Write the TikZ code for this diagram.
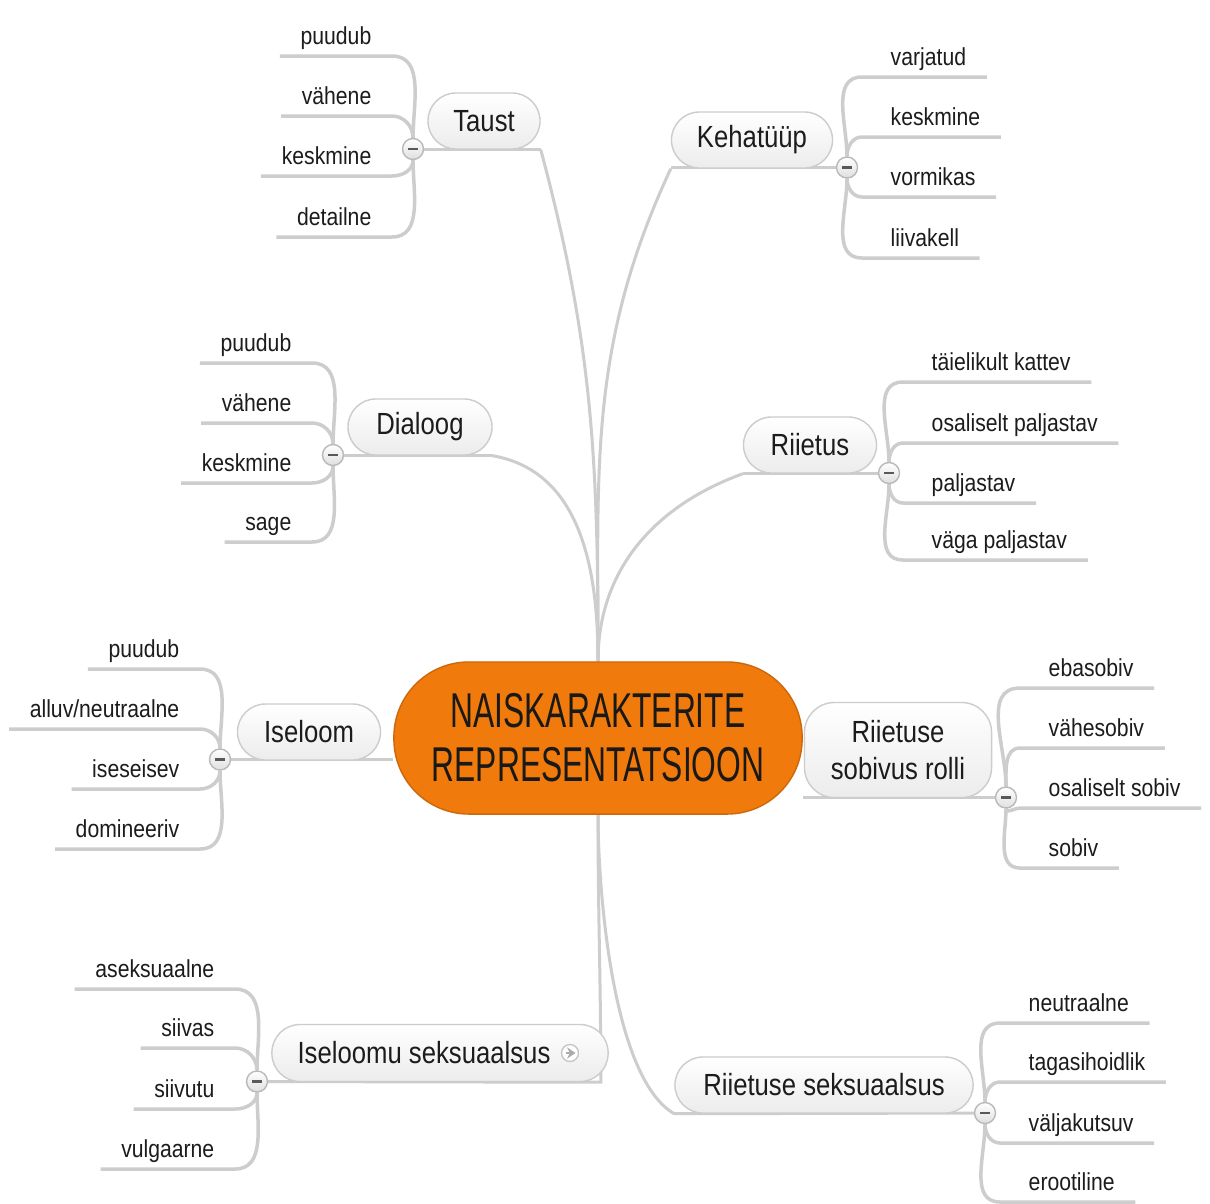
\documentclass[tikz,border=0pt]{standalone}
\usepackage{fontspec}
\setmainfont{Liberation Sans}
\newfontfamily\leaffont{Liberation Sans}[FakeStretch=0.86]
\newfontfamily\branchfont{Liberation Sans}[FakeStretch=0.84]
\newfontfamily\rootfont{Liberation Sans}[FakeStretch=0.65]
\usetikzlibrary{positioning, calc, backgrounds, arrows.meta}

\definecolor{mapline}{RGB}{205,205,205}
\definecolor{maporange}{RGB}{240,122,12}
\definecolor{maptext}{RGB}{28,28,28}

\tikzset{
  trunk/.style={draw=mapline, line width=0.03cm},
  twig/.style={draw=mapline, line width=0.035cm},
  leaf/.style={font=\leaffont\fontsize{7}{8}\selectfont, text=maptext,
    inner xsep=0.2cm, inner ysep=1.5pt, text height=5.2pt, text depth=1.5pt},
  leafl/.style={leaf, anchor=south east},
  leafr/.style={leaf, anchor=south west, execute at begin node=\hspace*{0.08cm}},
  branch/.style={rounded corners=0.28cm, draw=gray!40, top color=white,
    bottom color=gray!15, text=maptext, align=center, inner sep=0pt,
    font=\branchfont\fontsize{8.7}{10.4}\selectfont, minimum height=0.56cm},
  root/.style={rounded corners=0.75cm, fill=maporange, draw=maporange!85!black,
    minimum width=4.08cm, minimum height=1.52cm, align=center, text=black!90,
    font=\rootfont\fontsize{13.9}{15.4}\selectfont},
  minus/.style={circle, draw=gray!55, top color=white, bottom color=gray!25,
    minimum size=0.21cm, inner sep=0pt,
    path picture={\fill[gray!70!black] ([xshift=-0.05cm,yshift=-0.013cm]path picture bounding box.center)
      rectangle ++(0.1cm,0.026cm);}},
}

\begin{document}
\begin{tikzpicture}[x=0.01cm, y=0.01cm]
  \useasboundingbox (0,0) rectangle (1210,-1203);

  % keskmine solm
  \node[root] (root) at (598,-738) {NAISKARAKTERITE\\REPRESENTATSIOON};

  % harud
  \node[branch, minimum width=1.12cm] (taust) at (484,-121) {Taust};
  \node[branch, minimum width=1.61cm] (keha) at (752,-140) {Kehatüüp};
  \node[branch, minimum width=1.44cm] (dial) at (420,-427) {Dialoog};
  \node[branch, minimum width=1.33cm] (riie) at (810,-445) {Riietus};
  \node[branch, minimum width=1.43cm] (isel) at (309,-732) {Iseloom};
  \node[branch, minimum width=1.87cm, minimum height=0.95cm, rounded corners=0.3cm] (sobiv) at (898,-750) {Riietuse\\sobivus rolli};
  \node[branch, minimum width=3.36cm, minimum height=0.57cm] (isex) at (440,-1053) {Iseloomu seksuaalsus\hspace*{0.32cm}};
  \node[branch, minimum width=2.98cm] (riex) at (824,-1085) {Riietuse seksuaalsus};

  \node[circle, draw=gray!45, fill=white, minimum size=0.17cm, inner sep=0pt] (isexic) at (570,-1053) {};
  \draw[gray!65, line width=0.6pt, -{Stealth[length=2.4pt,width=3.2pt]}] ([xshift=-0.045cm]isexic.center) -- ([xshift=0.055cm]isexic.center);

  \node[minus] (taustm) at (413,-149) {};
  \node[minus] (keham) at (847,-167.5) {};
  \node[minus] (dialm) at (333,-455) {};
  \node[minus] (riiem) at (889,-473) {};
  \node[minus] (iselm) at (220,-759.5) {};
  \node[minus] (sobivm) at (1006,-797.5) {};
  \node[minus] (isexm) at (257,-1081.5) {};
  \node[minus] (riexm) at (985,-1113) {};

  % lehed
  \node[leafl] (t1) at (392,-56) {puudub};
  \node[leafl] (t2) at (392,-116) {vähene};
  \node[leafl] (t3) at (392,-176) {keskmine};
  \node[leafl] (t4) at (392,-237) {detailne};

  \node[leafr] (k1) at (862,-77) {varjatud};
  \node[leafr] (k2) at (862,-137) {keskmine};
  \node[leafr] (k3) at (862,-197) {vormikas};
  \node[leafr] (k4) at (862,-258) {liivakell};

  \node[leafl] (d1) at (312,-363) {puudub};
  \node[leafl] (d2) at (312,-423) {vähene};
  \node[leafl] (d3) at (312,-483) {keskmine};
  \node[leafl] (d4) at (312,-542) {sage};

  \node[leafr] (r1) at (903,-382) {täielikult kattev};
  \node[leafr] (r2) at (903,-443) {osaliselt paljastav};
  \node[leafr] (r3) at (903,-503) {paljastav};
  \node[leafr] (r4) at (903,-560) {väga paljastav};

  \node[leafl] (i1) at (200,-669) {puudub};
  \node[leafl] (i2) at (200,-729) {alluv/neutraalne};
  \node[leafl] (i3) at (200,-789) {iseseisev};
  \node[leafl] (i4) at (200,-849) {domineeriv};

  \node[leafr] (s1) at (1020,-688) {ebasobiv};
  \node[leafr] (s2) at (1020,-748) {vähesobiv};
  \node[leafr] (s3) at (1020,-808) {osaliselt sobiv};
  \node[leafr] (s4) at (1020,-868) {sobiv};

  \node[leafl] (x1) at (235,-989) {aseksuaalne};
  \node[leafl] (x2) at (235,-1048) {siivas};
  \node[leafl] (x3) at (235,-1109) {siivutu};
  \node[leafl] (x4) at (235,-1169) {vulgaarne};

  \node[leafr] (y1) at (1000,-1023) {neutraalne};
  \node[leafr] (y2) at (1000,-1082) {tagasihoidlik};
  \node[leafr] (y3) at (1000,-1143) {väljakutsuv};
  \node[leafr] (y4) at (1000,-1202) {erootiline};

  \begin{pgfonlayer}{background}
    \fill[white] (0,0) rectangle (1210,-1203);

    % juurest harudeni
    \draw[trunk] (taustm) -- (taustm -| taust.south east);
    \draw[trunk] (root.north) to[out=90,in=-75] (taust.south east);
    \draw[trunk] (keham) -- (keham -| keha.south west);
    \draw[trunk] (root.north) to[out=90,in=-115] (keha.south west);
    \draw[trunk] (dialm) -- (dialm -| dial.south east);
    \draw[trunk] (root.north) to[out=90,in=-10] (dial.south east);
    \draw[trunk] (riiem) -- (riiem -| riie.south west);
    \draw[trunk] (root.north) to[out=90,in=-160] (riie.south west);
    \draw[trunk] (iselm) -- (iselm -| root.west);
    \draw[trunk] (sobivm) -- (sobivm -| root.east);
    \draw[trunk] (isexm) -- ([xshift=-0.08cm]isex.south east) to[out=90,in=-90] (root.south);
    \draw[trunk] (root.south) to[out=-90,in=150,looseness=0.6] (riex.south west) -- (riexm);

    % lehtede jooned
    \draw[twig] (t1.south west) -- (t1.south east) to[out=0,in=90] (taustm);
    \draw[twig] (t2.south west) -- (t2.south east) to[out=0,in=90] (taustm);
    \draw[twig] (t3.south west) -- (t3.south east) to[out=0,in=-90] (taustm);
    \draw[twig] (t4.south west) -- (t4.south east) to[out=0,in=-90] (taustm);

    \draw[twig] (k1.south east) -- (k1.south west) to[out=180,in=90] (keham);
    \draw[twig] (k2.south east) -- (k2.south west) to[out=180,in=90] (keham);
    \draw[twig] (k3.south east) -- (k3.south west) to[out=180,in=-90] (keham);
    \draw[twig] (k4.south east) -- (k4.south west) to[out=180,in=-90] (keham);

    \draw[twig] (d1.south west) -- (d1.south east) to[out=0,in=90] (dialm);
    \draw[twig] (d2.south west) -- (d2.south east) to[out=0,in=90] (dialm);
    \draw[twig] (d3.south west) -- (d3.south east) to[out=0,in=-90] (dialm);
    \draw[twig] (d4.south west) -- (d4.south east) to[out=0,in=-90] (dialm);

    \draw[twig] (r1.south east) -- (r1.south west) to[out=180,in=90] (riiem);
    \draw[twig] (r2.south east) -- (r2.south west) to[out=180,in=90] (riiem);
    \draw[twig] (r3.south east) -- (r3.south west) to[out=180,in=-90] (riiem);
    \draw[twig] (r4.south east) -- (r4.south west) to[out=180,in=-90] (riiem);

    \draw[twig] (i1.south west) -- (i1.south east) to[out=0,in=90] (iselm);
    \draw[twig] (i2.south west) -- (i2.south east) to[out=0,in=90] (iselm);
    \draw[twig] (i3.south west) -- (i3.south east) to[out=0,in=-90] (iselm);
    \draw[twig] (i4.south west) -- (i4.south east) to[out=0,in=-90] (iselm);

    \draw[twig] (s1.south east) -- (s1.south west) to[out=180,in=90] (sobivm);
    \draw[twig] (s2.south east) -- (s2.south west) to[out=180,in=90] (sobivm);
    \draw[twig] (s3.south east) -- (s3.south west) to[out=180,in=-90] (sobivm);
    \draw[twig] (s4.south east) -- (s4.south west) to[out=180,in=-90] (sobivm);

    \draw[twig] (x1.south west) -- (x1.south east) to[out=0,in=90] (isexm);
    \draw[twig] (x2.south west) -- (x2.south east) to[out=0,in=90] (isexm);
    \draw[twig] (x3.south west) -- (x3.south east) to[out=0,in=-90] (isexm);
    \draw[twig] (x4.south west) -- (x4.south east) to[out=0,in=-90] (isexm);

    \draw[twig] (y1.south east) -- (y1.south west) to[out=180,in=90] (riexm);
    \draw[twig] (y2.south east) -- (y2.south west) to[out=180,in=90] (riexm);
    \draw[twig] (y3.south east) -- (y3.south west) to[out=180,in=-90] (riexm);
    \draw[twig] (y4.south east) -- (y4.south west) to[out=180,in=-90] (riexm);
  \end{pgfonlayer}
\end{tikzpicture}
\end{document}
